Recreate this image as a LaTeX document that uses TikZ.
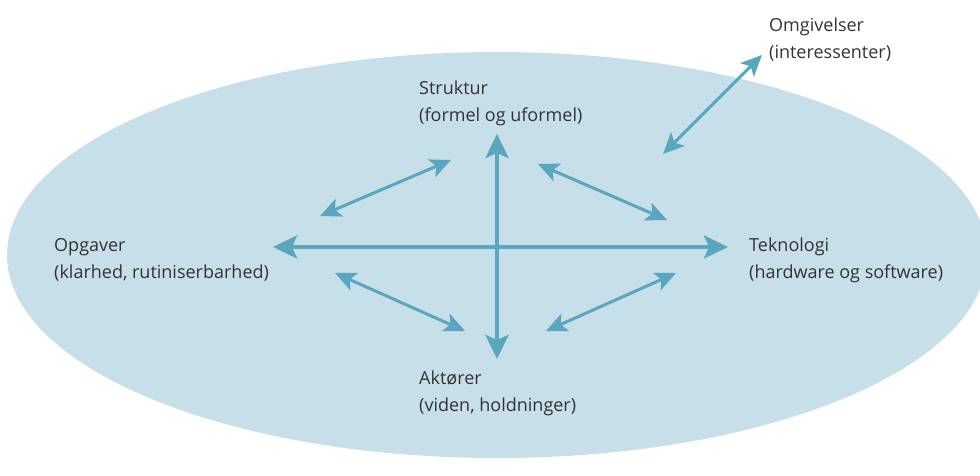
\documentclass[tikz,border=0pt]{standalone}
\usepackage{fontspec}
\setmainfont{Open Sans}
\usetikzlibrary{arrows.meta}
\definecolor{ellbg}{HTML}{C7DFE8}
\definecolor{arrowblue}{HTML}{5AA6BF}
\definecolor{labeltext}{HTML}{333333}
\tikzset{
  label text/.style={anchor=west, align=left, text=labeltext, font=\fontsize{18}{27}\selectfont, inner sep=0pt},
  mainarrow/.style={draw=arrowblue, line width=4pt, {Stealth[length=24pt, width=23pt, inset=5pt]}-{Stealth[length=24pt, width=23pt, inset=5pt]}},
  linkarrow/.style={draw=arrowblue, line width=3pt, {Stealth[length=21pt, width=19pt, inset=5pt]}-{Stealth[length=21pt, width=19pt, inset=5pt]}}
}
\begin{document}
\begin{tikzpicture}[x=1pt, y=-1pt]
  \useasboundingbox (0,0) rectangle (980,476);
  \clip (0,0) rectangle (980,476);
  % organisation boundary
  \fill[ellbg] (497,255) ellipse [x radius=490, y radius=203];

  % labels
  \node[label text] (omg) at (769,40) {Omgivelser\\(interessenter)};
  \node[label text] (str) at (419,103) {Struktur\\(formel og uformel)};
  \node[label text] (opg) at (54,260) {Opgaver\\(klarhed, rutiniserbarhed)};
  \node[label text] (tek) at (749,260) {Teknologi\\(hardware og software)};
  \node[label text] (akt) at (419,393) {Aktører\\(viden, holdninger)};

  % arrow end points
  \coordinate (left)   at (273,247);
  \coordinate (right)  at (728,247);
  \coordinate (top)    at (497,134);
  \coordinate (bottom) at (497,359);
  \coordinate (ulA) at (320,216);
  \coordinate (ulB) at (451,160);
  \coordinate (urA) at (538,164);
  \coordinate (urB) at (667,220);
  \coordinate (llA) at (335,273);
  \coordinate (llB) at (465,331);
  \coordinate (lrA) at (546,331);
  \coordinate (lrB) at (676,273);
  \coordinate (envA) at (663,154);
  \coordinate (envB) at (762,55);

  % main axes
  \draw[mainarrow] (left) -- (right);
  \draw[mainarrow] (top) -- (bottom);

  % diagonal relations
  \draw[linkarrow] (ulA) -- (ulB);
  \draw[linkarrow] (urA) -- (urB);
  \draw[linkarrow] (llA) -- (llB);
  \draw[linkarrow] (lrA) -- (lrB);
  \draw[linkarrow] (envA) -- (envB);
\end{tikzpicture}
\end{document}
